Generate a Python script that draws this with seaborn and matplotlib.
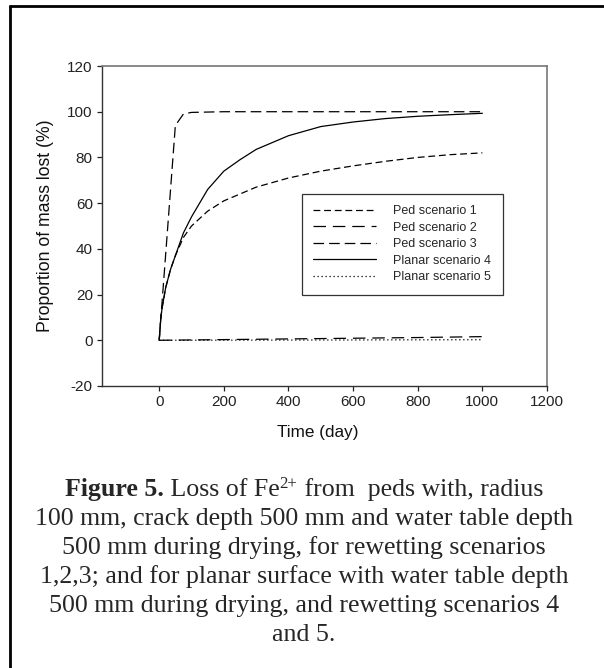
import numpy as np
import pandas as pd
import matplotlib
matplotlib.use("Agg")
import matplotlib.pyplot as plt
from matplotlib.lines import Line2D
import seaborn as sns

# data (days, % of mass lost)
days = [0, 5, 10, 20, 35, 50, 75, 100, 150, 200, 250, 300, 400, 500, 600, 700, 800, 900, 1000]
ped1 = [0, 10, 15, 23, 31, 37, 45, 50, 56.5, 61, 64, 67, 71, 74, 76.3, 78.3, 80, 81.2, 82]
planar4 = [0, 10, 15, 23, 31, 37, 47, 54, 66, 74, 79, 83.5, 89.5, 93.5, 95.5, 97, 98, 98.7, 99.3]

days_ped3 = [0, 50, 75, 100, 200, 400, 600, 800, 1000]
ped3 = [0, 94, 99, 99.7, 100, 100, 100, 100, 100]

days_flat = [0, 200, 400, 600, 800, 1000]
ped2 = [0, 0.3, 0.6, 0.9, 1.2, 1.6]
planar5 = [0, 0.05, 0.1, 0.15, 0.2, 0.25]

labels = ["Ped scenario 1", "Ped scenario 2", "Ped scenario 3",
          "Planar scenario 4", "Planar scenario 5"]

sns.set_style("ticks")
plt.rcParams["font.family"] = ["Liberation Sans", "DejaVu Sans"]
plt.rcParams["axes.unicode_minus"] = False

fig = plt.figure(figsize=(6.04, 6.68), dpi=100)
W, H = 604, 668
ax = fig.add_axes([102 / W, 1 - 386 / H, 445 / W, 320 / H])

series = [
    (days, ped1, labels[0], (0, (5.5, 3))),
    (days_flat, ped2, labels[1], (0, (10, 5.5))),
    (days_ped3, ped3, labels[2], (0, (8.5, 4))),
    (days, planar4, labels[3], "-"),
    (days_flat, planar5, labels[4], (0, (1, 2.2))),
]
for x, y, lab, ls in series:
    df = pd.DataFrame({"day": x, "lost": y})
    sns.lineplot(data=df, x="day", y="lost", ax=ax, color="black",
                 linewidth=0.9, linestyle=ls, label=lab)

ax.set_xlim(-177, 1200)
ax.set_ylim(-20, 120)
ax.set_xticks(np.arange(0, 1201, 200))
ax.set_yticks(np.arange(-20, 121, 20))
ax.tick_params(direction="out", length=3.6, width=0.9, pad=3,
               labelsize=11, colors="#222222")
for side in ["left", "bottom"]:
    ax.spines[side].set_color("#333333")
    ax.spines[side].set_linewidth(1.0)
for side in ["top", "right"]:
    ax.spines[side].set_visible(True)
    ax.spines[side].set_color("#777777")
    ax.spines[side].set_linewidth(1.2)

ax.set_xlabel("Time (day)", fontsize=12.3, color="#111111")
ax.set_ylabel("Proportion of mass lost (%)", fontsize=12.7, color="#111111")
ax.xaxis.set_label_coords(0.485, -0.121)
ax.yaxis.set_label_coords(-0.108, 0.5)

leg = ax.legend(loc="upper left", bbox_to_anchor=((302 - 102) / 445, (386 - 194) / 320),
                frameon=True, fancybox=False, edgecolor="black", fontsize=9,
                handlelength=5.0, handletextpad=1.4, labelspacing=0.36,
                borderpad=0.9, borderaxespad=0)
leg.get_frame().set_linewidth(0.9)

# figure frame (top and left edges visible)
fig.add_artist(Line2D([10 / W, 1], [1 - 6 / H, 1 - 6 / H], color="black", lw=2,
                      transform=fig.transFigure))
fig.add_artist(Line2D([10 / W, 10 / W], [0, 1 - 6 / H], color="black", lw=2,
                      transform=fig.transFigure))

# caption
cap_size = 18.6
serif = ["Liberation Serif", "DejaVu Serif"]
renderer = fig.canvas.get_renderer()
cx = 304
line1 = [("Figure 5.", "bold", cap_size, 0),
         (" Loss of Fe", "normal", cap_size, 0),
         ("2+", "normal", cap_size * 0.65, 8),
         (" from  peds with, radius", "normal", cap_size, 0)]
rest = ["100 mm, crack depth 500 mm and water table depth",
        "500 mm during drying, for rewetting scenarios",
        "1,2,3; and for planar surface with water table depth",
        "500 mm during drying, and rewetting scenarios 4",
        "and 5."]
base0 = 496
step = 29

objs = []
total = 0
for s, wt, sz, dy in line1:
    t = fig.text(0, 0, s, fontsize=sz, fontweight=wt, family=serif,
                 va="baseline", ha="left")
    w = t.get_window_extent(renderer).width
    objs.append((t, w, dy))
    total += w
xpos = cx - total / 2
for t, w, dy in objs:
    t.set_position((xpos / W, 1 - (base0 - dy) / H))
    xpos += w

for i, s in enumerate(rest):
    fig.text(cx / W, 1 - (base0 + step * (i + 1)) / H, s, fontsize=cap_size,
             family=serif, ha="center", va="baseline")

fig.savefig("out.png", dpi=100)
